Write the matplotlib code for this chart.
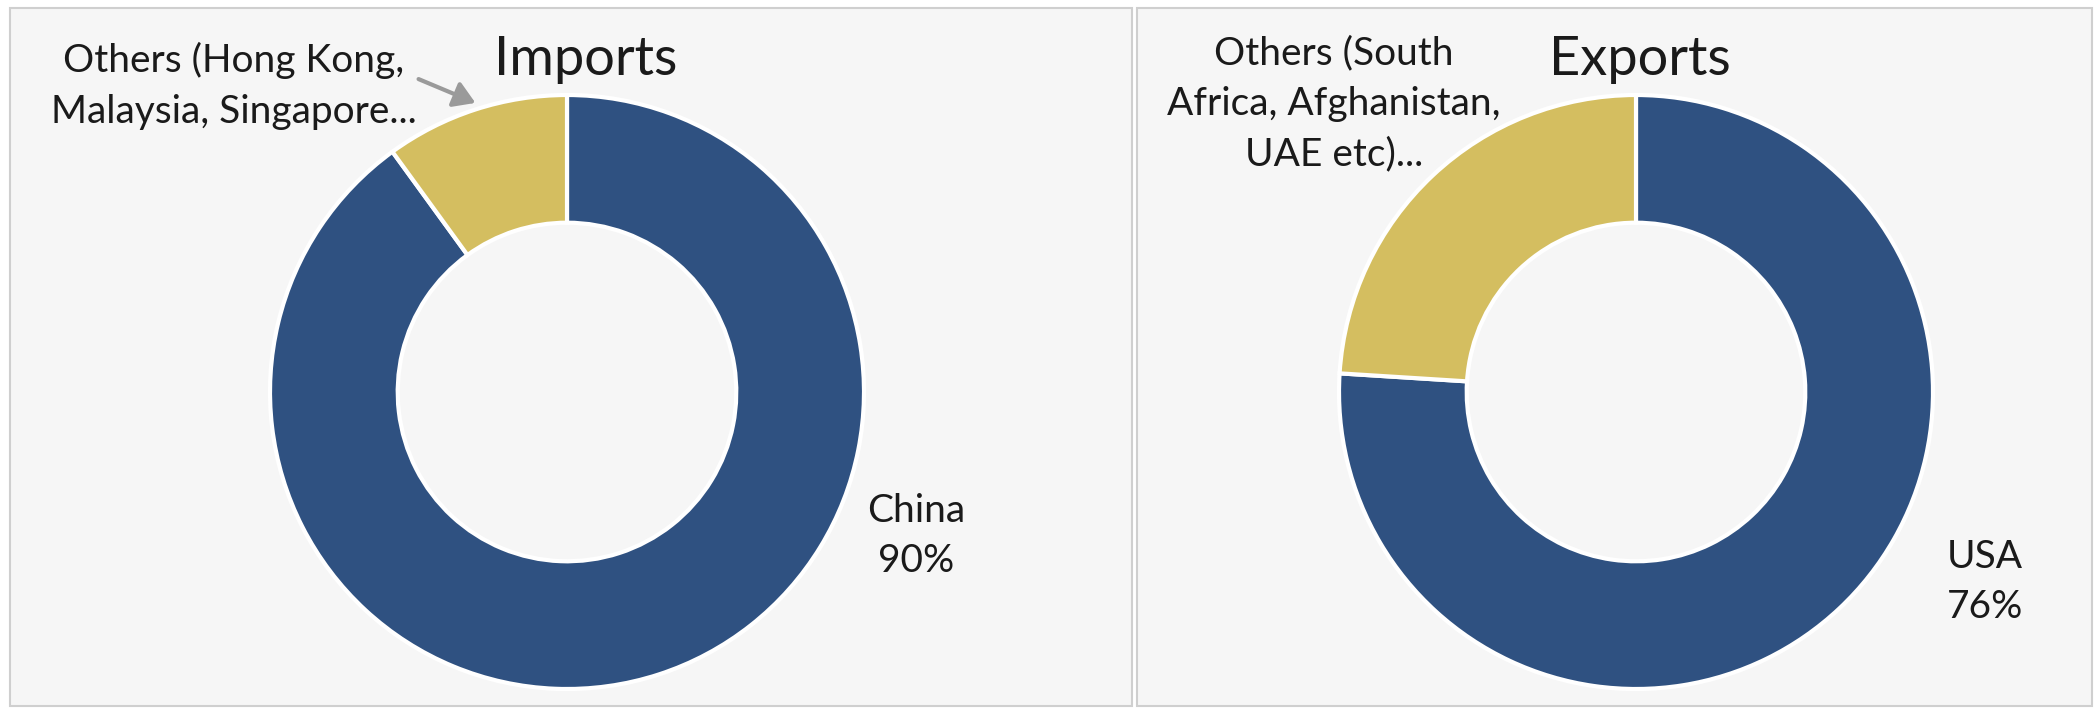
import matplotlib
matplotlib.use("Agg")
import matplotlib.pyplot as plt
from matplotlib.patches import Rectangle, FancyArrowPatch

W, H = 2096, 710

# Data
import_labels = ["China", "Others (Hong Kong,\nMalaysia, Singapore..."]
import_values = [90, 10]
export_labels = ["USA", "Others (South\nAfrica, Afghanistan,\nUAE etc)..."]
export_values = [76, 24]
titles = ["Imports", "Exports"]

BLUE = "#2F5181"
GOLD = "#D4BE60"
FONT = ["Lato", "DejaVu Sans"]

plt.rcParams['font.family'] = FONT

fig = plt.figure(figsize=(W / 100, H / 100), dpi=100)
fig.patch.set_facecolor("white")

def px(x, y):
    return x / W, 1 - y / H

# panels
for (x0, x1) in [(10, 1132), (1137, 2092)]:
    fig.patches.append(Rectangle((x0 / W, 4 / H), (x1 - x0) / W, (706 - 8) / H,
                                 transform=fig.transFigure, facecolor="#F6F6F6",
                                 edgecolor="#CFCFCF", linewidth=1.5, zorder=-5))

def donut(cx, cy, r, values):
    ax = fig.add_axes([(cx - r) / W, (H - cy - r) / H, 2 * r / W, 2 * r / H])
    ax.set_facecolor("none")
    ax.set_zorder(2)
    ax.pie(values, colors=[BLUE, GOLD], startangle=90, counterclock=False,
           radius=1, wedgeprops=dict(width=0.43, edgecolor="white", linewidth=3))
    ax.set_xlim(-1, 1)
    ax.set_ylim(-1, 1)
    ax.set_aspect("equal")
    ax.axis("off")
    return ax

donut(567, 392, 297, import_values)
donut(1636, 392, 297, export_values)

fs = 28
tfs = 39
tc = "#1A1A1A"
ls = 1.5

# Imports panel text
fig.text(*px(586, 60), titles[0], ha="center", va="center", fontsize=tfs, color=tc)
fig.text(*px(234, 86), import_labels[1], ha="center", va="center", fontsize=fs,
         color=tc, linespacing=ls)
fig.text(*px(916, 536), f"{import_labels[0]}\n{import_values[0]}%", ha="center",
         va="center", fontsize=fs, color=tc, linespacing=ls)
arr = FancyArrowPatch(px(416, 78), px(478, 104), transform=fig.transFigure,
                      arrowstyle="-|>,head_length=8,head_width=5", color="#9A9A9A",
                      linewidth=3, mutation_scale=1.6, zorder=3)
fig.patches.append(arr)

# Exports panel text
fig.text(*px(1640, 60), titles[1], ha="center", va="center", fontsize=tfs, color=tc)
fig.text(*px(1334, 104), export_labels[1], ha="center", va="center", fontsize=fs,
         color=tc, linespacing=ls)
fig.text(*px(1985, 582), f"{export_labels[0]}\n{export_values[0]}%", ha="center",
         va="center", fontsize=fs, color=tc, linespacing=ls)

fig.savefig("out.png", dpi=100, facecolor=fig.get_facecolor())
